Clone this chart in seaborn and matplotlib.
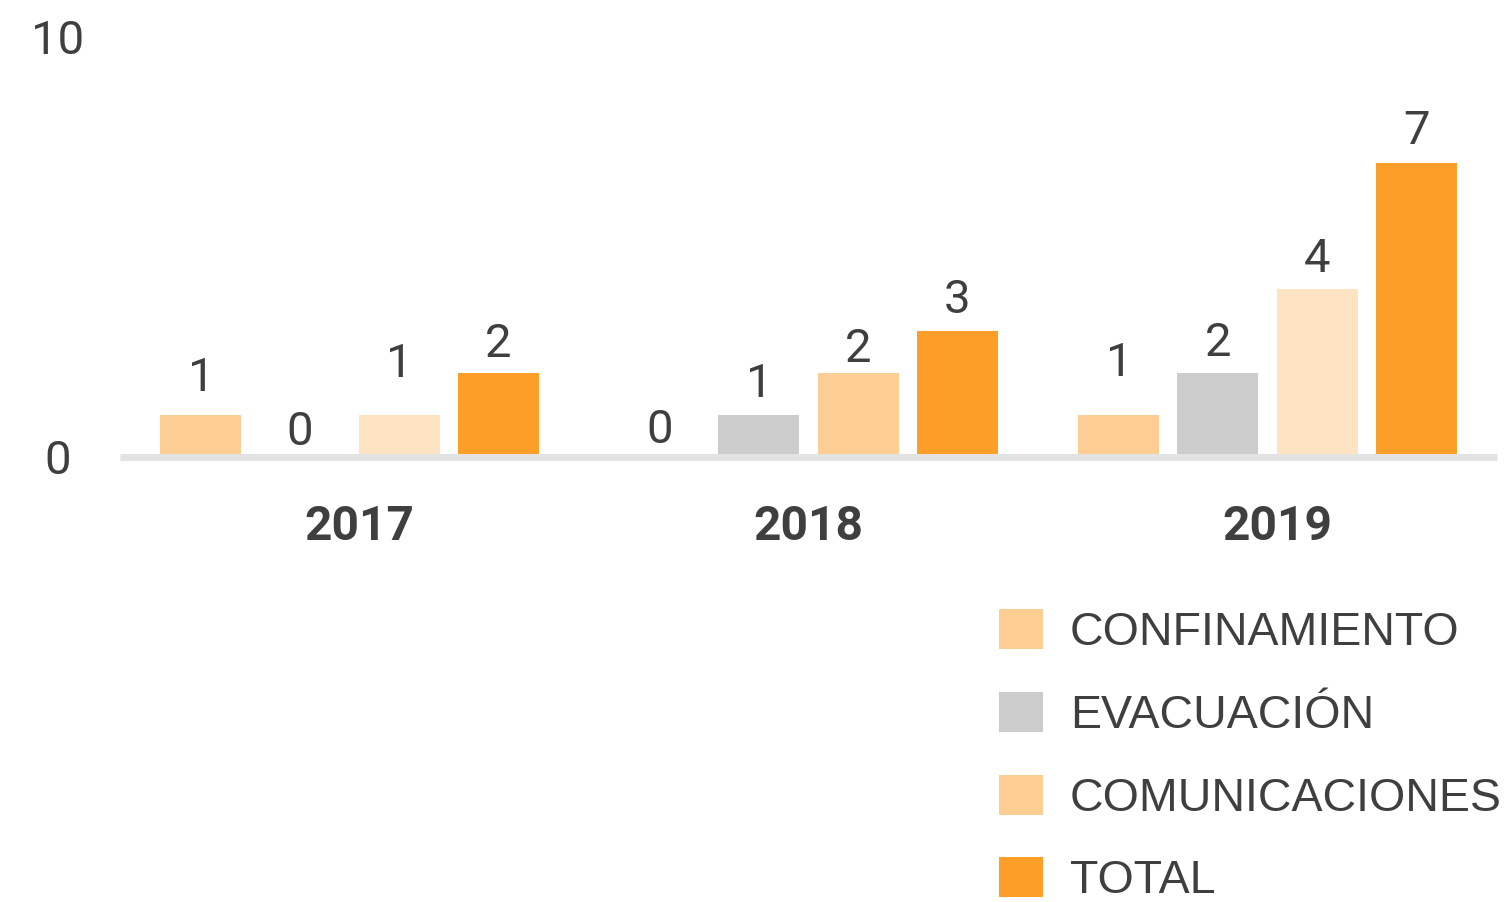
import matplotlib
matplotlib.use('Agg')
import matplotlib.pyplot as plt
import matplotlib.transforms as mtransforms
import seaborn as sns
import pandas as pd
from matplotlib.patches import Patch

# ---- data ----
years = ['2017', '2018', '2019']
series = ['CONFINAMIENTO', 'EVACUACIÓN', 'COMUNICACIONES', 'TOTAL']
confinamiento = [1, 0, 1]
evacuacion = [0, 1, 2]
comunicaciones = [1, 2, 4]
total = [2, 3, 7]
y_ticks = [0, 10]

# ---- styling ----
PEACH = '#FDCE94'
LIGHT = '#FDE3C2'
GREY = '#CCCCCC'
ORANGE = '#FC9E28'
TEXT = '#3F3F3F'
legend_colors = [PEACH, GREY, PEACH, ORANGE]
bar_colors = {
    '2017': [PEACH, GREY, LIGHT, ORANGE],
    '2018': [PEACH, GREY, PEACH, ORANGE],
    '2019': [PEACH, GREY, LIGHT, ORANGE],
}
# gap (px) between bar top and value-label baseline
label_pad_px = {
    '2017': [24, 12, 38, 16],
    '2018': [14, 18, 11, 18],
    '2019': [39, 17, 17, 19],
}
# horizontal nudge (px) of the category labels
year_label_dx_px = [10, 0, 10]

values_by_series = [confinamiento, evacuacion, comunicaciones, total]
df = pd.DataFrame({
    'year': [y for s in series for y in years],
    'series': [s for s in series for _ in years],
    'value': [v for vals in values_by_series for v in vals],
})

sns.set_theme(style='white')
plt.rcParams['font.family'] = ['Roboto', 'DejaVu Sans']

W, H = 1507, 902
fig = plt.figure(figsize=(W / 100, H / 100), dpi=100)
ax = fig.add_axes([120 / W, 1 - 457 / H, (1497 - 120) / W, 420 / H])

sns.barplot(data=df, x='year', y='value', hue='series', order=years,
            hue_order=series, palette=legend_colors, saturation=1,
            width=0.863, gap=0.182, errorbar=None, legend=False,
            linewidth=0, ax=ax)

PX2PT = 72 / 100
for j, cont in enumerate(ax.containers):
    for i, bar in enumerate(cont):
        yr = years[i]
        bar.set_facecolor(bar_colors[yr][j])
        bar.set_edgecolor('none')
        h = values_by_series[j][i]
        ax.annotate(str(h), (bar.get_x() + bar.get_width() / 2, h),
                    xytext=(0, label_pad_px[yr][j] * PX2PT),
                    textcoords='offset points', ha='center', va='baseline',
                    fontsize=34, color=TEXT, annotation_clip=False)

ax.set_xlim(-0.5, 2.5)
ax.set_ylim(0, 10)
ax.set_yticks(y_ticks)
ax.set_yticklabels([str(t) for t in y_ticks])
ax.set_xlabel('')
ax.set_ylabel('')
for s in ['left', 'top', 'right']:
    ax.spines[s].set_visible(False)
ax.spines['bottom'].set_color('#E3E3E3')
ax.spines['bottom'].set_linewidth(5)
ax.spines['bottom'].set_capstyle('butt')
ax.spines['bottom'].set_zorder(3)

ax.tick_params(axis='y', length=0, pad=45, labelsize=34, labelcolor=TEXT)
for lab in ax.get_yticklabels():
    lab.set_horizontalalignment('center')
ax.tick_params(axis='x', length=0, pad=34, labelsize=34.5, labelcolor=TEXT)
for lab, dx in zip(ax.get_xticklabels(), year_label_dx_px):
    lab.set_fontweight('bold')
    lab.set_transform(lab.get_transform() +
                      mtransforms.ScaledTranslation(dx / 100, 0, fig.dpi_scale_trans))

handles = [Patch(facecolor=c, edgecolor='none') for c in legend_colors]
leg = fig.legend(handles, series, loc='upper left',
                 bbox_to_anchor=(999 / W, 1 - 609 / H),
                 bbox_transform=fig.transFigure, frameon=False,
                 borderpad=0, borderaxespad=0,
                 handlelength=0.946, handleheight=0.946,
                 handletextpad=0.58, labelspacing=0.79,
                 prop={'family': ['Liberation Sans', 'DejaVu Sans'], 'size': 33.5},
                 labelcolor=TEXT)

fig.savefig('out.png', dpi=100, facecolor='white')
